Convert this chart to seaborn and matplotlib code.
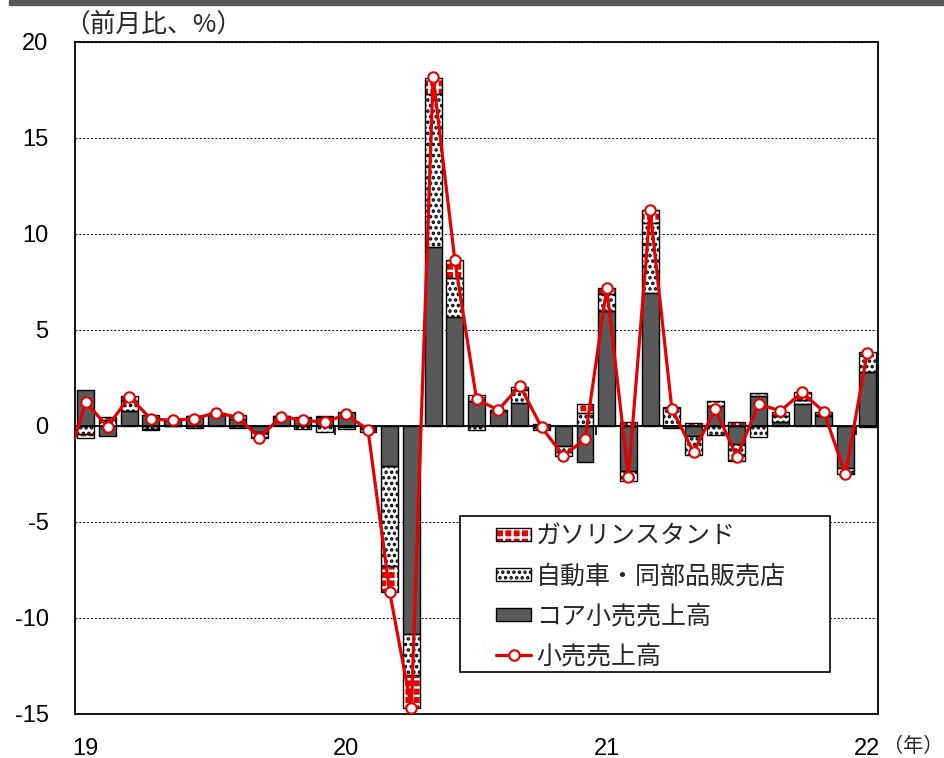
import numpy as np
import pandas as pd
import matplotlib
matplotlib.use('Agg')
import matplotlib.pyplot as plt
import seaborn as sns
from matplotlib.patches import Patch, Rectangle
from matplotlib.lines import Line2D
from matplotlib.legend_handler import HandlerTuple

# 米小売売上高の前月比(%)、2019年1月～2022年1月
months = pd.date_range('2019-01-01', '2022-01-01', freq='MS')
core = [1.9, -0.5, 0.8, 0.55, 0.3, 0.5, 0.55, 0.35, -0.3, 0.45, 0.4, 0.45,
        0.75, -0.1, -2.1, -10.85, 9.3, 5.7, 1.3, 0.8, 1.2, 0.1, -1.05, -1.85,
        6.0, -2.35, 6.95, -0.1, -0.5, 1.05, -0.95, 1.55, 0.2, 1.15, 0.5, -2.2,
        2.8]
auto = [-0.4, 0.3, 0.5, -0.15, 0.0, 0.0, 0.1, 0.2, -0.25, 0.05, -0.15, -0.3,
        -0.05, -0.05, -5.2, -2.1, 8.0, 2.0, -0.2, 0.05, 0.7, -0.1, -0.3, 0.7,
        0.85, -0.5, 3.6, 0.95, -1.0, -0.45, -0.85, -0.55, 0.3, 0.2, 0.05, -0.3,
        1.05]
gas = [-0.2, 0.15, 0.25, -0.05, -0.02, -0.1, 0.05, -0.1, -0.05, 0.0, 0.05, 0.05,
       -0.1, -0.15, -1.35, -1.75, 0.85, 0.95, 0.3, 0.0, 0.15, -0.1, -0.2, 0.43,
       0.35, 0.2, 0.7, 0.05, 0.15, 0.25, 0.2, 0.15, 0.25, 0.4, 0.2, 0.0,
       -0.05]
# 折れ線は2018年12月から(左端ではみ出す)
total_months = pd.date_range('2018-12-01', '2022-01-01', freq='MS')
total = [-2.4, 1.25, -0.05, 1.53, 0.36, 0.3, 0.38, 0.7, 0.45, -0.6, 0.49, 0.3, 0.2,
         0.6, -0.2, -8.65, -14.7, 18.2, 8.65, 1.4, 0.83, 2.1, -0.07, -1.54, -0.7,
         7.2, -2.65, 11.25, 0.9, -1.35, 0.87, -1.6, 1.15, 0.78, 1.75, 0.75, -2.52,
         3.8]
year_labels = ['19', '20', '21', '22']
names = {'gas': 'ガソリンスタンド', 'auto': '自動車・同部品販売店',
         'core': 'コア小売売上高', 'total': '小売売上高'}

RED = '#e60000'
GRAY = '#595959'

sns.set_style('white')
plt.rcParams['font.family'] = ['Liberation Sans', 'Noto Sans CJK JP']
plt.rcParams['axes.unicode_minus'] = False
jp = ['Noto Sans CJK JP', 'DejaVu Sans']

fig = plt.figure(figsize=(9.44, 7.58), dpi=100)
ax = fig.add_axes([75/944, 44/758, 803/944, 672/758])

df = pd.DataFrame({'x': np.arange(len(months)), 'core': core, 'auto': auto, 'gas': gas})

# 積み上げの下端 (プラスとマイナスは別々に積む)
pos = np.zeros(len(df))
neg = np.zeros(len(df))
bottoms = {}
for col in ['core', 'auto', 'gas']:
    v = df[col].to_numpy()
    bottoms[col] = np.where(v >= 0, pos, neg)
    pos = pos + np.clip(v, 0, None)
    neg = neg + np.clip(v, None, 0)

plt.rcParams['hatch.linewidth'] = 1.7
styles = {
    'core': dict(face=GRAY, hatch=None, hcolor=GRAY),
    'auto': dict(face='white', hatch='...', hcolor='black'),
    'gas': dict(face=RED, hatch='++', hcolor='white'),
}

for col in ['core', 'auto', 'gas']:
    st = styles[col]
    sns.barplot(data=df, x='x', y=col, native_scale=True, width=0.78, errorbar=None,
                color=st['face'], saturation=1, facecolor=st['face'],
                edgecolor=st['hcolor'], hatch=st['hatch'],
                linewidth=0, bottom=bottoms[col], ax=ax, zorder=2)
    sns.barplot(data=df, x='x', y=col, native_scale=True, width=0.78, errorbar=None,
                fill=False, color='black', linewidth=1, bottom=bottoms[col],
                ax=ax, zorder=2.2)

sns.lineplot(x=np.arange(-1, len(months)), y=total, color=RED, linewidth=2.3,
             marker='o', markersize=7.5, markerfacecolor='white',
             markeredgecolor=RED, markeredgewidth=1.5, ax=ax, zorder=4)

ax.axhline(0, color='black', linewidth=1.3, zorder=2.5)
# 年の区切りの目盛
ax.vlines(np.arange(12, len(months), 12) - 0.5, -0.45, 0, color='black',
          linewidth=1.2, zorder=2.5)

ax.set_xlim(-0.5, len(months) - 0.5)
ax.set_ylim(-15, 20)
ax.set_yticks(range(-15, 21, 5))
ax.set_xticks(np.arange(0, len(months), 12), year_labels)
ax.yaxis.grid(True, color='black', linestyle=(0, (2, 2)), linewidth=0.7)
ax.xaxis.grid(False)
ax.set_axisbelow(True)
ax.set_xlabel('')
ax.set_ylabel('')
ax.tick_params(length=0, labelsize=17, colors='black')
ax.tick_params(axis='y', pad=19)
ax.tick_params(axis='x', pad=17)
for s in ax.spines.values():
    s.set_color('black')
    s.set_linewidth(1.3)

fig.text(64/944, 1 - 25/758, '（前月比、%）', fontsize=18.5, family=jp,
         va='center', ha='left')
fig.text(943/944, 1 - 746/758, '（年）', fontsize=14.5, family=jp,
         va='center', ha='right')

fig.add_artist(Rectangle((0.01, 1 - 5/758), 0.99, 5/758, transform=fig.transFigure,
                         color=GRAY))

# 凡例 (枠は別に描く)
ax.add_patch(Rectangle(((460 - 75) / 803, (714 - 672) / 672), 370 / 803, 156 / 672,
                       transform=ax.transAxes, facecolor='white', edgecolor='black',
                       linewidth=1.2, zorder=5))

def bar_handle(col):
    st = styles[col]
    fillp = Patch(facecolor=st['face'], edgecolor=st['hcolor'], hatch=st['hatch'], linewidth=0)
    outline = Patch(facecolor='none', edgecolor='black', linewidth=1)
    return (fillp, outline)

handles = [bar_handle('gas'), bar_handle('auto'), bar_handle('core'),
           Line2D([], [], color=RED, linewidth=2.3, marker='o', markersize=7.5,
                  markerfacecolor='white', markeredgecolor=RED, markeredgewidth=1.5)]
labels = [names['gas'], names['auto'], names['core'], names['total']]
leg = ax.legend(handles, labels, handler_map={tuple: HandlerTuple(ndivide=1, pad=0)},
                loc='upper left', bbox_to_anchor=((496 - 75) / 803, (714 - 523) / 672),
                borderaxespad=0, borderpad=0, frameon=False,
                prop={'family': jp, 'size': 18}, handlelength=1.4, handleheight=0.42,
                handletextpad=0.2, labelspacing=0.56)
leg.set_zorder(6)

fig.savefig('out.png', dpi=100)
